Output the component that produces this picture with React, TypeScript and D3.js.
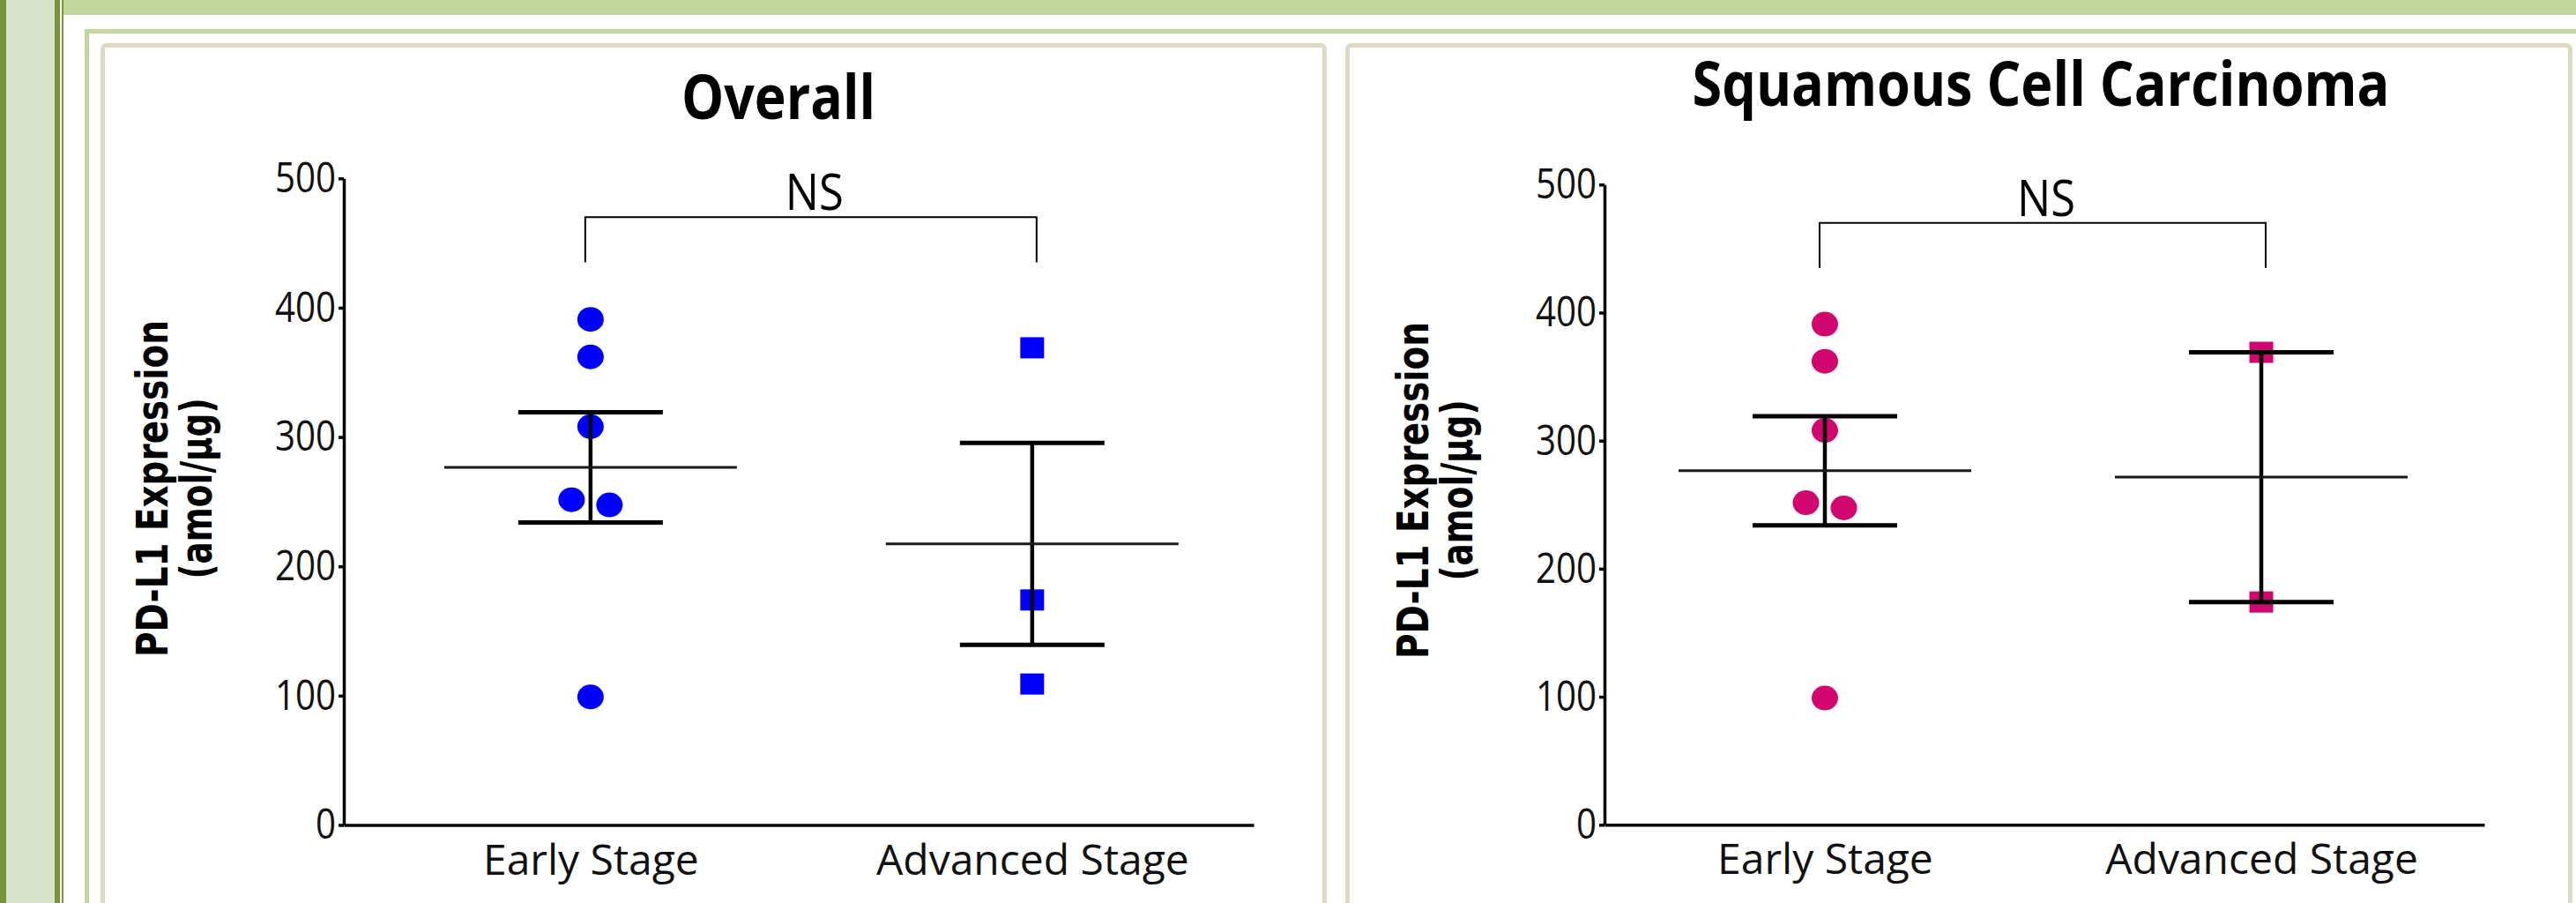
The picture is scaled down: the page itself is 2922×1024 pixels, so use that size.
import { useEffect, useRef } from 'react'
import * as d3 from 'd3'

// values (amol/µg)
const categories = ['Early Stage', 'Advanced Stage']
const overallEarly = [391, 362, 308, 251.5, 247.5, 99]
const overallAdvanced = [369, 174, 109]
const sccEarly = [391, 362, 308, 251.5, 247.5, 99]
const sccAdvanced = [369, 174]
const yTicks = [0, 100, 200, 300, 400, 500]
const titles = ['Overall', 'Squamous Cell Carcinoma']
const sigLabel = 'NS'
const yLabelLines = ['PD-L1 Expression', '(amol/µg)']

const W = 2922, H = 1024
const darkGreen = '#77933C', paleGreen = '#D9E3C9', lightGreen = '#C3D69B', beige = '#DDD9C3'
const markers = ['circle', 'square']

export default function App() {
    const ref = useRef<SVGSVGElement>(null)

    const drawFrame = (svg) => {
        const frame = svg.append('g').attr('class', 'frame')
        frame.append('rect').attr('x', 0).attr('y', 0).attr('width', 7).attr('height', H).attr('fill', darkGreen)
        frame.append('rect').attr('x', 7).attr('y', 0).attr('width', 55).attr('height', H).attr('fill', paleGreen)
        frame.append('rect').attr('x', 62).attr('y', 0).attr('width', 6).attr('height', H).attr('fill', darkGreen)
        frame.append('rect').attr('x', 70).attr('y', 0).attr('width', 2).attr('height', H).attr('fill', darkGreen)
        frame.append('rect').attr('x', 72).attr('y', 0).attr('width', W - 72).attr('height', 17).attr('fill', lightGreen)
        frame.append('rect').attr('x', 96).attr('y', 33).attr('width', W - 96).attr('height', 5).attr('fill', lightGreen)
        frame.append('rect').attr('x', 96).attr('y', 33).attr('width', 5).attr('height', H - 33).attr('fill', lightGreen)

        // the two panels
        const panels = [[116.5, 1502.5], [1528.5, 2915.5]]
        panels.forEach(([a, b]) => {
            frame.append('rect')
                .attr('x', a).attr('y', 51.5)
                .attr('width', b - a).attr('height', 1100)
                .attr('rx', 4)
                .attr('fill', 'white')
                .attr('stroke', beige)
                .attr('stroke-width', 5)
        })
    }

    const drawChart = (svg, cfg, groups, color) => {
        const g = svg.append('g')

        const x = d3.scalePoint()
            .domain(categories)
            .range([cfg.x0, cfg.x1])
            .padding(cfg.pad)
            .align(cfg.align)

        const y = d3.scaleLinear()
            .domain([0, 500])
            .range([cfg.yBottom, cfg.yTop])

        // title
        g.append('text')
            .attr('x', cfg.titleX)
            .attr('y', cfg.titleY)
            .attr('text-anchor', 'middle')
            .attr('textLength', cfg.titleLen)
            .attr('lengthAdjust', 'spacingAndGlyphs')
            .style('font-family', '"Open Sans", sans-serif')
            .style('font-weight', 700)
            .style('font-size', '70px')
            .text(cfg.title)

        // y axis
        const yAxis = d3.axisLeft(y).tickValues(yTicks).tickSize(6).tickPadding(3).tickSizeOuter(0)
        const ya = g.append('g')
            .attr('transform', `translate(${cfg.x0},0)`)
            .call(yAxis)
        ya.select('.domain').attr('stroke', '#000').attr('stroke-width', 3.5)
        ya.selectAll('.tick line').attr('stroke', '#000').attr('stroke-width', 3.5)
        ya.selectAll('.tick text')
            .attr('fill', '#111')
            .attr('textLength', (d) => String(d).length * 23)
            .attr('lengthAdjust', 'spacingAndGlyphs')
            .style('font-family', '"Open Sans", sans-serif')
            .style('font-size', '48px')

        // x axis
        const xAxis = d3.axisBottom(x).tickSize(0).tickPadding(22).tickSizeOuter(0)
        const xa = g.append('g')
            .attr('transform', `translate(0,${cfg.yBottom})`)
            .call(xAxis)
        xa.select('.domain').attr('stroke', '#000').attr('stroke-width', 3.5)
        xa.selectAll('.tick text')
            .attr('fill', '#111')
            .style('font-family', '"Open Sans", sans-serif')
            .style('font-size', '48px')

        // y label, two lines
        const labelLens = [382, 205]
        yLabelLines.forEach((line, i) => {
            g.append('text')
                .attr('transform', `translate(${cfg.x0 - 200 + i * 50},${cfg.labelY}) rotate(-90)`)
                .attr('text-anchor', 'middle')
                .attr('textLength', labelLens[i])
                .attr('lengthAdjust', 'spacingAndGlyphs')
                .style('font-family', '"DejaVu Sans", sans-serif')
                .style('font-weight', 700)
                .style('font-size', '50px')
                .text(line)
        })

        // significance bracket
        const bx0 = x(categories[0]) - 6, bx1 = x(categories[1]) + 5
        g.append('path')
            .attr('d', `M${bx0},${y(435)}V${y(470)}H${bx1}V${y(435)}`)
            .attr('fill', 'none')
            .attr('stroke', '#000')
            .attr('stroke-width', 2)
        g.append('text')
            .attr('x', (bx0 + bx1) / 2 + 4)
            .attr('y', y(470) - 8)
            .attr('text-anchor', 'middle')
            .attr('textLength', 66)
            .attr('lengthAdjust', 'spacingAndGlyphs')
            .style('font-family', '"Open Sans", sans-serif')
            .style('font-size', '57px')
            .text(sigLabel)

        groups.forEach((values, gi) => {
            const cx = x(categories[gi])

            // spread points that would overlap
            const sorted = values.map((v, i) => ({ v, i })).sort((a, b) => b.v - a.v)
            const clusters = []
            sorted.forEach((p) => {
                const last = clusters[clusters.length - 1]
                if (last && y(p.v) - y(last[last.length - 1].v) < 27) last.push(p)
                else clusters.push([p])
            })
            const pts = []
            clusters.forEach((c) => {
                c.forEach((p, k) => pts.push({ v: p.v, dx: (k - (c.length - 1) / 2) * 43 }))
            })

            const pg = g.append('g').attr('fill', color)
            if (markers[gi] === 'circle') {
                pg.selectAll('ellipse')
                    .data(pts)
                    .join('ellipse')
                    .attr('cx', (d) => cx + d.dx)
                    .attr('cy', (d) => y(d.v))
                    .attr('rx', 15)
                    .attr('ry', 14)
            } else {
                pg.selectAll('rect')
                    .data(pts)
                    .join('rect')
                    .attr('x', (d) => cx + d.dx - 13.5)
                    .attr('y', (d) => y(d.v) - 12)
                    .attr('width', 27)
                    .attr('height', 24)
            }

            // mean ± SEM
            const mean = d3.mean(values)
            const sem = d3.deviation(values) / Math.sqrt(values.length)
            const eg = g.append('g').attr('stroke', '#000')
            eg.append('line')
                .attr('x1', cx).attr('x2', cx)
                .attr('y1', y(mean - sem)).attr('y2', y(mean + sem))
                .attr('stroke-width', 4.5)
            ;[mean - sem, mean + sem].forEach((v) => {
                eg.append('line')
                    .attr('x1', cx - 82).attr('x2', cx + 82)
                    .attr('y1', y(v)).attr('y2', y(v))
                    .attr('stroke-width', 5)
            })
            eg.append('line')
                .attr('x1', cx - 166).attr('x2', cx + 166)
                .attr('y1', y(mean)).attr('y2', y(mean))
                .attr('stroke-width', 3)
                .attr('stroke', '#1a1a1a')
        })
    }

    useEffect(() => {
        const svg = d3.select(ref.current)
        svg.selectAll('*').remove()
        drawFrame(svg)

        drawChart(svg, {
            x0: 390, x1: 1422, yTop: 202.3, yBottom: 935.5, pad: 0.53, align: 0.527,
            title: titles[0], titleX: 883, titleY: 135, titleLen: 220, labelY: 554,
        }, [overallEarly, overallAdvanced], '#0000FF')

        drawChart(svg, {
            x0: 1820, x1: 2818, yTop: 209.3, yBottom: 935.3, pad: 0.508, align: 0.497,
            title: titles[1], titleX: 2315, titleY: 120, titleLen: 791, labelY: 556,
        }, [sccEarly, sccAdvanced], '#D1066E')
    }, [])

    return (
        <svg
            ref={ref}
            width={W}
            height={H}
            style={{ position: 'absolute', left: 0, top: 0, background: 'white' }}
        />
    )
}
